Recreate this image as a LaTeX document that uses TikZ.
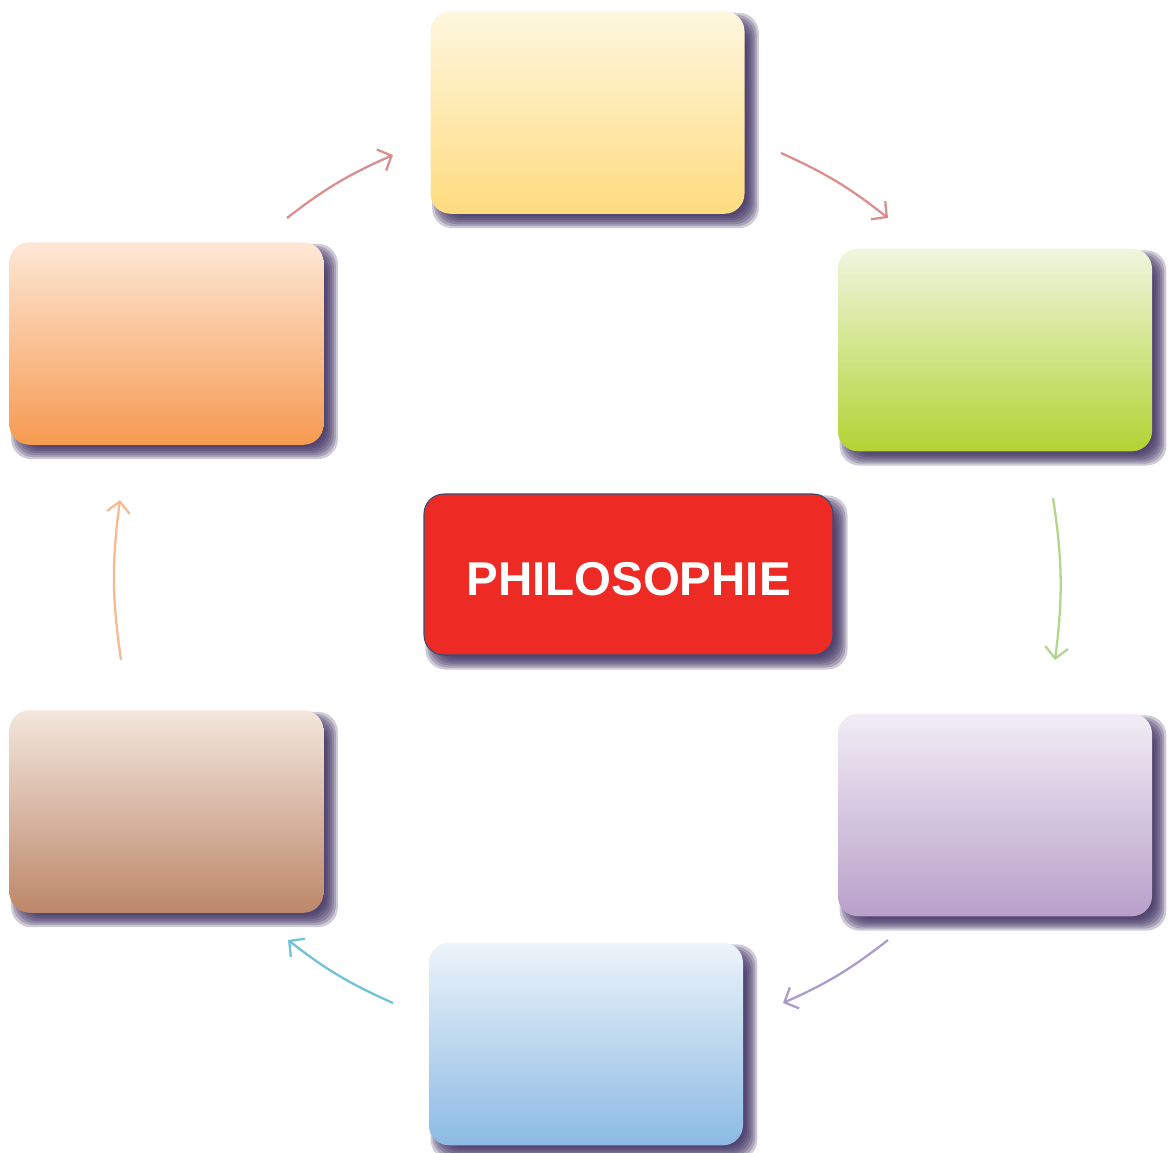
\documentclass[tikz,border=0pt]{standalone}
\usepackage{fontspec}
\setmainfont{Liberation Sans}
\usetikzlibrary{calc,backgrounds,arrows.meta}
\definecolor{yelTop}{HTML}{FEF7DF}\definecolor{yelBot}{HTML}{FEDB7F}
\definecolor{grnTop}{HTML}{EFF6DF}\definecolor{grnBot}{HTML}{B3D334}
\definecolor{purTop}{HTML}{F1EDF5}\definecolor{purBot}{HTML}{B9A0CA}
\definecolor{bluTop}{HTML}{EDF4FB}\definecolor{bluBot}{HTML}{8BBAE3}
\definecolor{brnTop}{HTML}{F3E7DD}\definecolor{brnBot}{HTML}{BD8769}
\definecolor{orgTop}{HTML}{FEE8D6}\definecolor{orgBot}{HTML}{F69A50}
\definecolor{philRed}{HTML}{EE2A24}
\definecolor{philEdge}{HTML}{2E4F7C}
\definecolor{shadowCol}{RGB}{60,45,95}
\definecolor{arrRed}{HTML}{D47C7C}
\definecolor{arrGrn}{HTML}{A9CD7A}
\definecolor{arrPur}{HTML}{9C8DC3}
\definecolor{arrBlu}{HTML}{5BB9CF}
\definecolor{arrOrg}{HTML}{F7B07E}
\begin{document}
\begin{tikzpicture}[
  stepbox/.style = {shape=rectangle, rounded corners=0.4cm,
    minimum width=6.28cm, minimum height=4.05cm, inner sep=0pt},
  philbox/.style = {shape=rectangle, rounded corners=0.4cm,
    minimum width=8.18cm, minimum height=3.22cm, inner sep=0pt,
    text height=0.84cm, text depth=0cm,
    fill=philRed, draw=philEdge, line width=0.6pt,
    text=white, font=\fontsize{27}{30}\selectfont\bfseries},
  cycarrow/.style = {line width=1.3pt, opacity=0.85,
    -{Straight Barb[length=2.2mm,width=4.6mm]}, bend left=7}]
  \useasboundingbox (0,0) rectangle (23.4,-23.06);
  \node[stepbox, top color=yelTop, bottom color=yelBot] (yel) at (11.75,-2.25) {};
  \node[stepbox, top color=grnTop, bottom color=grnBot] (grn) at (19.9,-7.0) {};
  \node[stepbox, top color=purTop, bottom color=purBot] (pur) at (19.9,-16.3) {};
  \node[stepbox, top color=bluTop, bottom color=bluBot] (blu) at (11.72,-20.88) {};
  \node[stepbox, top color=brnTop, bottom color=brnBot] (brn) at (3.33,-16.23) {};
  \node[stepbox, top color=orgTop, bottom color=orgBot] (org) at (3.33,-6.87) {};
  \node[philbox] (phil) at (12.57,-11.49) {PHILOSOPHIE};
  \coordinate (orgOut) at (5.74,-4.36);  \coordinate (yelIn) at (7.86,-3.10);
  \coordinate (yelOut) at (15.62,-3.06); \coordinate (grnIn) at (17.76,-4.36);
  \coordinate (grnOut) at (21.06,-9.96); \coordinate (purIn) at (21.10,-13.2);
  \coordinate (purOut) at (17.76,-18.8); \coordinate (bluIn) at (15.66,-20.06);
  \coordinate (bluOut) at (7.86,-20.06); \coordinate (brnIn) at (5.76,-18.8);
  \coordinate (brnOut) at (2.42,-13.2);  \coordinate (orgIn) at (2.40,-10.0);
  \draw[cycarrow, arrRed] (orgOut) to (yelIn);
  \draw[cycarrow, arrRed] (yelOut) to (grnIn);
  \draw[cycarrow, arrGrn, bend left=8] (grnOut) to (purIn);
  \draw[cycarrow, arrPur] (purOut) to (bluIn);
  \draw[cycarrow, arrBlu] (bluOut) to (brnIn);
  \draw[cycarrow, arrOrg, bend left=8] (brnOut) to (orgIn);
  \begin{scope}[on background layer]
    \fill[white] (0,0) rectangle (23.4,-23.06);
    \foreach \n in {yel,grn,pur,blu,brn,org,phil}
      \foreach \k in {-8,-6,...,6}
        \fill[shadowCol, opacity=0.25, rounded corners=0.4cm]
          ($(\n.south west)+({0.16-\k/50},{-0.16-\k/50})$) rectangle
          ($(\n.north east)+({0.16+\k/50},{-0.16+\k/50})$);
  \end{scope}
\end{tikzpicture}
\end{document}
